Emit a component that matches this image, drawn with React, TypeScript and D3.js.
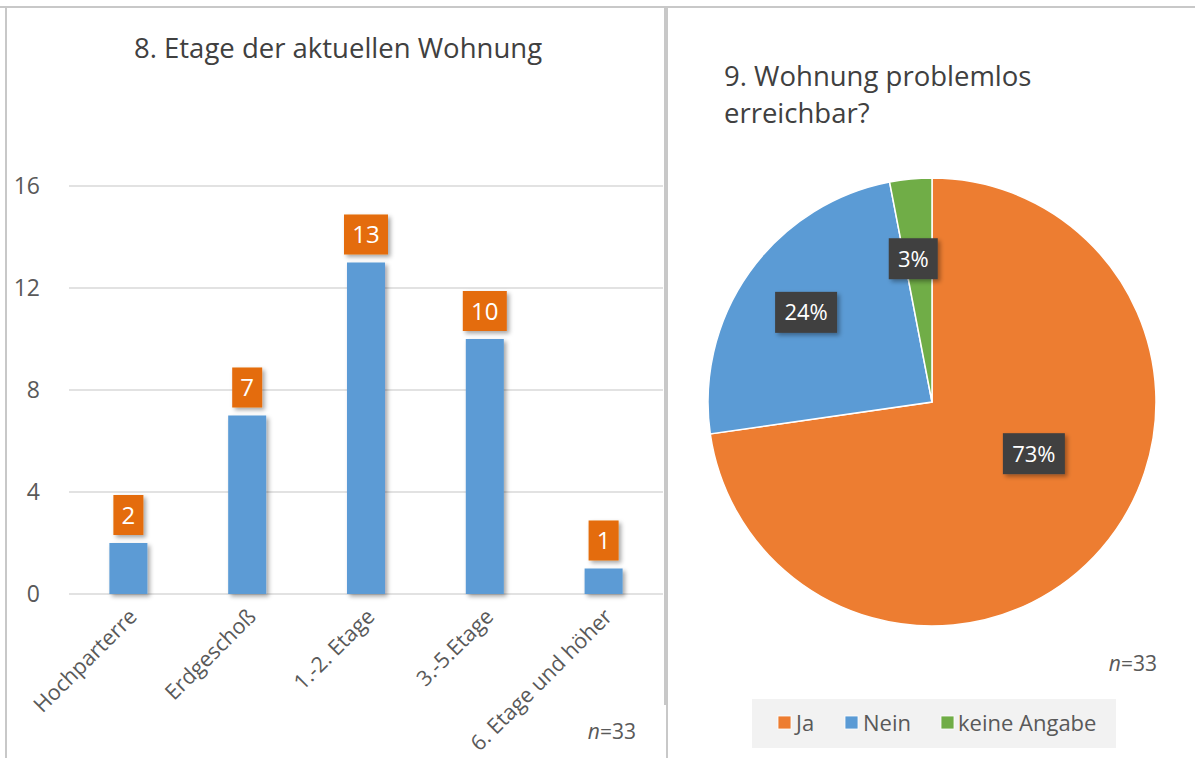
import React from "react";
import * as d3 from "d3";

// ---- Data ----
const barCategories = ["Hochparterre", "Erdgeschoß", "1.-2. Etage", "3.-5.Etage", "6. Etage und höher"];
const barValues = [2, 7, 13, 10, 1];
const yTicks = [0, 4, 8, 12, 16];

const pieCategories = ["Ja", "Nein", "keine Angabe"];
const pieValues = [24, 8, 1];
const pieColors = ["#ED7D31", "#5B9BD5", "#70AD47"];
const pieLabels = ["73%", "24%", "3%"];

// label placement (angle offset in degrees, radius fraction) – layout only
const pieLabelLayout = [
  { angleOffset: -14, rFrac: 0.51 },
  { angleOffset: 0, rFrac: 0.69 },
  { angleOffset: -2, rFrac: 0.645 },
];

const W = 1195;
const H = 758;
const FONT = "'Open Sans', 'Noto Sans', sans-serif";
const TXT = "#595959";

export default function App() {
  const x = d3.scaleBand<string>().domain(barCategories).range([69, 663]).paddingInner(0.68).paddingOuter(0.34);
  const y = d3.scaleLinear().domain([0, 16]).range([594, 186]);

  const cx = 932, cy = 402, r = 224;
  const pie = d3.pie<number>().sort(null).value((d) => d)(pieValues);
  const arc = d3.arc<d3.PieArcDatum<number>>().innerRadius(0).outerRadius(r);

  const legendItems = [
    { x: 778, tx: 796 },
    { x: 845, tx: 863 },
    { x: 941, tx: 958 },
  ];

  return (
    <div style={{ position: "absolute", left: 0, top: 0 }}>
      <svg width={W} height={H} style={{ display: "block", fontFamily: FONT }}>
        <defs>
          <filter id="sh" x="-30%" y="-30%" width="170%" height="170%">
            <feDropShadow dx="2.5" dy="2.5" stdDeviation="2" floodColor="#000" floodOpacity="0.35" />
          </filter>
        </defs>
        <rect width={W} height={H} fill="#fff" />
        <line x1={0} x2={W} y1={7} y2={7} stroke="#C8C8C8" strokeWidth={2} />
        <line x1={6} x2={6} y1={7} y2={H} stroke="#C8C8C8" strokeWidth={2} />
        <line x1={665} x2={665} y1={7} y2={705} stroke="#C8C8C8" strokeWidth={2} />
        <line x1={667} x2={667} y1={7} y2={H} stroke="#C8C8C8" strokeWidth={2} />

        <text x={338} y={58} textAnchor="middle" fontSize={27.5} fontWeight={400} fill="#404040">
          8. Etage der aktuellen Wohnung
        </text>

        {yTicks.map((t) => (
          <g key={t}>
            <line x1={69} x2={663} y1={y(t)} y2={y(t)} stroke="#D9D9D9" strokeWidth={1.5} />
            <text x={40} y={y(t)} dy="0.35em" textAnchor="end" fontSize={23} fontWeight={400} fill={TXT}>
              {t}
            </text>
          </g>
        ))}

        {barValues.map((v, i) => {
          const bx = x(barCategories[i])!;
          return (
            <rect key={i} x={bx} y={y(v)} width={x.bandwidth()} height={y(0) - y(v)} fill="#5B9BD5" filter="url(#sh)" />
          );
        })}

        {barValues.map((v, i) => {
          const c = x(barCategories[i])! + x.bandwidth() / 2;
          const s = String(v);
          const w = s.length > 1 ? 44 : 30;
          const h = 40;
          const top = y(v) - 8 - h;
          return (
            <g key={i}>
              <rect x={c - w / 2} y={top} width={w} height={h} fill="#E46C0A" filter="url(#sh)" />
              <text x={c} y={top + h / 2} dy="0.36em" textAnchor="middle" fontSize={24} fontWeight={400} fill="#fff">
                {s}
              </text>
            </g>
          );
        })}

        {barCategories.map((c, i) => {
          const px = x(c)! + x.bandwidth() / 2 + 10;
          const py = 618;
          return (
            <text
              key={c}
              x={px}
              y={py}
              textAnchor="end"
              fontSize={21.5}
              fontWeight={400}
              fill={TXT}
              transform={`rotate(-45, ${px}, ${py})`}
            >
              {c}
            </text>
          );
        })}

        <text x={636} y={739} textAnchor="end" fontSize={21} fill={TXT}>
          <tspan fontStyle="italic">n</tspan>=33
        </text>

        <text x={724} y={86} fontSize={27.5} fontWeight={400} fill="#404040">
          9. Wohnung problemlos
        </text>
        <text x={724} y={123} fontSize={27.5} fontWeight={400} fill="#404040">
          erreichbar?
        </text>

        <g transform={`translate(${cx},${cy})`}>
          {pie.map((p, i) => (
            <path key={i} d={arc(p)!} fill={pieColors[i]} stroke="#fff" strokeWidth={1.5} />
          ))}
          {pie.map((p, i) => {
            const lay = pieLabelLayout[i];
            const a = (p.startAngle + p.endAngle) / 2 + (lay.angleOffset * Math.PI) / 180;
            const d = r * lay.rFrac;
            const lx = Math.sin(a) * d;
            const ly = -Math.cos(a) * d;
            const w = pieLabels[i].length > 2 ? 62 : 49;
            const h = 41;
            return (
              <g key={"l" + i}>
                <rect x={lx - w / 2} y={ly - h / 2} width={w} height={h} fill="#404040" filter="url(#sh)" />
                <text x={lx} y={ly} dy="0.36em" textAnchor="middle" fontSize={22} fontWeight={400} fill="#fff">
                  {pieLabels[i]}
                </text>
              </g>
            );
          })}
        </g>

        <text x={1157} y={671} textAnchor="end" fontSize={21} fill={TXT}>
          <tspan fontStyle="italic">n</tspan>=33
        </text>

        <rect x={752} y={699} width={364} height={49} fill="#F2F2F2" />
        {pieCategories.map((c, i) => (
          <g key={c}>
            <rect x={legendItems[i].x} y={716} width={13} height={13} fill={pieColors[i]} stroke="#fff" strokeWidth={0.8} />
            <text x={legendItems[i].tx} y={723} dy="0.35em" fontSize={22} fontWeight={400} fill={TXT}>
              {c}
            </text>
          </g>
        ))}
      </svg>
    </div>
  );
}
